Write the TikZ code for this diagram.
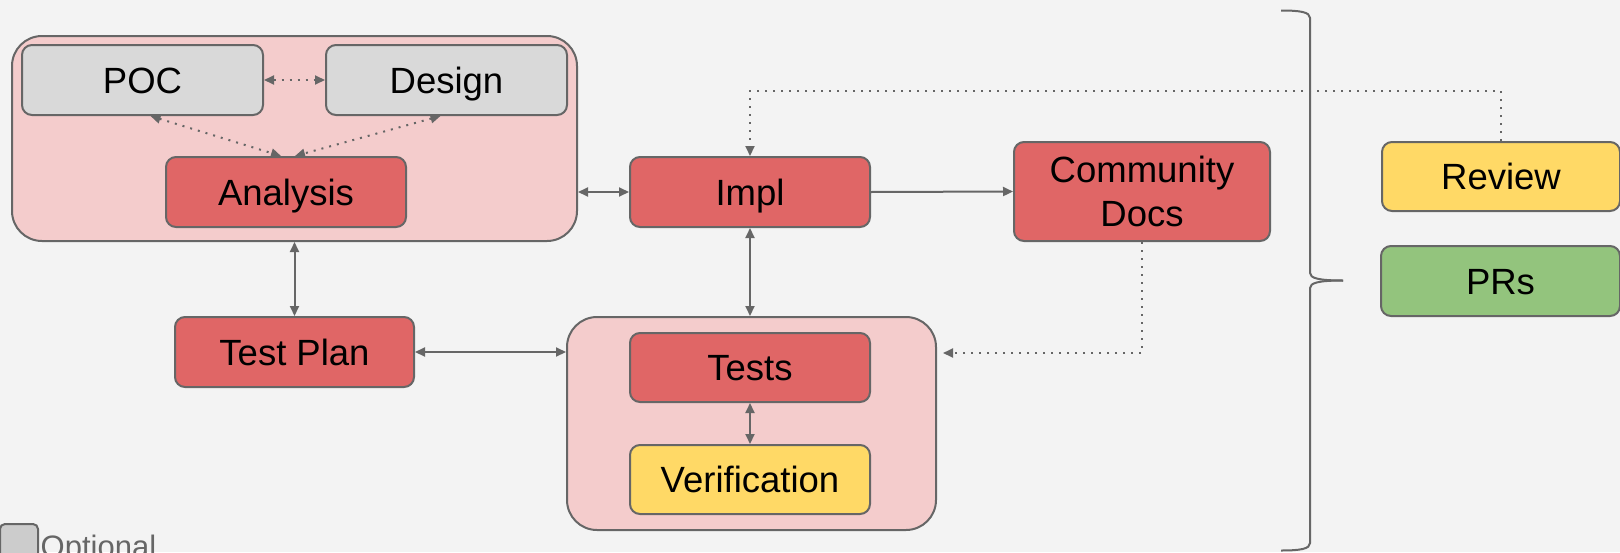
\documentclass[tikz,border=0pt]{standalone}
\usepackage{fontspec}
\setmainfont{Liberation Sans}
\usetikzlibrary{arrows.meta}
\definecolor{bg}{HTML}{F3F3F3}
\definecolor{edge}{HTML}{666666}
\definecolor{grpfill}{HTML}{F4CCCC}
\definecolor{redfill}{HTML}{E06666}
\definecolor{grayfill}{HTML}{D9D9D9}
\definecolor{yellowfill}{HTML}{FFD966}
\definecolor{greenfill}{HTML}{93C47D}
\definecolor{legendfill}{HTML}{CCCCCC}
\begin{document}
\begin{tikzpicture}[x=1pt,y=-1pt,
  box/.style={draw=edge, line width=2pt, rounded corners=10pt, inner sep=0pt,
    text height=26pt, text depth=0pt, align=center,
    font=\fontsize{36.5}{44.7}\selectfont},
  grp/.style={draw=edge, line width=2pt, rounded corners=30pt, fill=grpfill, inner sep=0pt},
  conn/.style={draw=edge, line width=2pt, -{Triangle[length=10pt,width=9pt]}},
  biconn/.style={draw=edge, line width=2pt, {Triangle[length=10pt,width=9pt]}-{Triangle[length=10pt,width=9pt]}},
  dotted conn/.style={dash pattern=on 2pt off 6pt},
]
\useasboundingbox (0,0) rectangle (1620,552);
\clip (0,0) rectangle (1620,552);
\fill[bg] (0,0) rectangle (1620,552);

% groups
\node[grp, minimum width=565pt, minimum height=205pt] (grpA) at (294.5,138.5) {};
\node[grp, minimum width=369pt, minimum height=213pt] (grpT) at (751.5,423.5) {};

% boxes
\node[box, fill=grayfill, minimum width=241pt, minimum height=70pt] (poc) at (142.5,80) {POC};
\node[box, fill=grayfill, minimum width=241pt, minimum height=70pt] (design) at (446.5,80) {Design};
\node[box, fill=redfill, minimum width=240pt, minimum height=70pt] (analysis) at (286,192) {Analysis};
\node[box, fill=redfill, minimum width=240pt, minimum height=70pt] (impl) at (750,192) {Impl};
\node[box, fill=redfill, minimum width=256pt, minimum height=99pt, text height={}, text depth={}] (docs) at (1142,191.5) {Community\\Docs};
\node[box, fill=yellowfill, minimum width=238pt, minimum height=69pt] (review) at (1501,176.5) {Review};
\node[box, fill=greenfill, minimum width=239pt, minimum height=70pt] (prs) at (1500.5,281) {PRs};
\node[box, fill=redfill, minimum width=239pt, minimum height=70pt] (testplan) at (294.5,352) {Test Plan};
\node[box, fill=redfill, minimum width=240pt, minimum height=69pt] (tests) at (750,367.5) {Tests};
\node[box, fill=yellowfill, minimum width=240pt, minimum height=69pt] (verif) at (750,479.5) {Verification};

% legend
\node[draw=edge, fill=legendfill, line width=2pt, rounded corners=5pt, inner sep=0pt,
  minimum width=38pt, minimum height=56pt] (legendbox) at (19,552) {};
\node[anchor=base west, text=edge, inner sep=0pt, font=\fontsize{31}{37}\selectfont] (legendtxt) at (40.5,557) {Optional};

% coordinates for routed lines
\coordinate (topline) at (0,91);
\coordinate (docline) at (0,353);

% dotted connectors
\draw[biconn, dotted conn] (poc.east) -- (design.west);
\draw[biconn, dotted conn] ([xshift=8pt]poc.south) -- ([xshift=-5pt]analysis.north);
\draw[biconn, dotted conn] ([xshift=-6pt]design.south) -- ([xshift=9pt]analysis.north);
\draw[conn, dotted conn] (review.north) -- (review.north |- topline) -| (impl.north);
\draw[conn, dotted conn, shorten >=6pt] (docs.south) |- (grpT.east |- docline);

% solid connectors
\draw[biconn] (impl.west -| grpA.east) -- (impl.west);
\draw[conn] (impl.east) -- (docs.west);
\draw[biconn] (grpA.south) -- (testplan.north);
\draw[biconn] (testplan.east) -- (testplan.east -| grpT.west);
\draw[biconn] (impl.south) -- (impl.south |- grpT.north);
\draw[biconn] (tests.south) -- (verif.north);

% brace
\draw[edge, line width=2pt]
  (1281,10.5) .. controls (1300,10.5) and (1310,12) .. (1310,18)
  -- (1310,273) .. controls (1310,278) and (1318,280.5) .. (1343,280.5);
\draw[edge, line width=2pt]
  (1343,280.5) .. controls (1318,280.5) and (1310,283) .. (1310,288)
  -- (1310,543) .. controls (1310,549) and (1300,550.5) .. (1281,550.5);
\end{tikzpicture}
\end{document}
